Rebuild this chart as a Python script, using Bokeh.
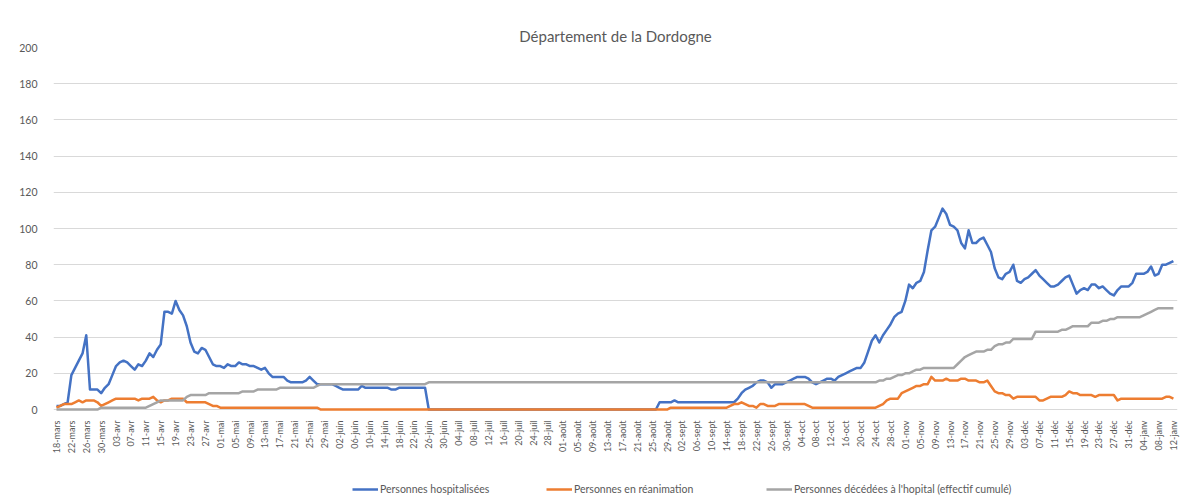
import math
import datetime as dt
from bokeh.plotting import figure
from bokeh.layouts import column
from bokeh.models import Range1d, FixedTicker, Legend, LegendItem
from bokeh.embed import file_html
from bokeh.resources import INLINE

# ---------------- data ----------------
start_date = dt.date(2020, 3, 18)
mois = ["janv", "févr", "mars", "avr", "mai", "juin", "juil", "août", "sept", "oct", "nov", "déc"]

hospitalises = (
    [2, 2, 3, 4, 19, 23, 27, 31, 41, 11,
     11, 11, 9, 12, 14, 19, 24, 26, 27, 26,
     24, 22, 25, 24, 27, 31, 29, 33, 36, 54,
     54, 53, 60, 55, 52, 46, 37, 32, 31, 34,
     33, 29, 25, 24, 24, 23, 25, 24, 24, 26,
     25, 25, 24, 24, 23, 22, 23, 20, 18, 18,
     18, 18, 16, 15, 15, 15, 15, 16, 18, 16,
     14, 14, 14, 14, 14, 13, 12, 11, 11, 11,
     11, 11, 13, 12, 12, 12, 12, 12, 12, 12,
     11, 11, 12, 12, 12, 12, 12, 12, 12, 12]
    + [0] * 62
    + [4, 4, 4, 4, 5, 4, 4, 4]
    + [4] * 10
    + [4, 4, 4, 6, 9, 11, 12, 13, 15, 16,
       16, 15, 12, 14, 14, 14, 15, 16, 17, 18,
       18, 18, 17, 15, 14, 15, 16, 17, 17, 16,
       18, 19, 20, 21, 22, 23, 23, 26, 32, 38,
       41, 37, 41, 44, 47, 51, 53, 54, 60, 69,
       67, 70, 71, 76, 88, 99, 101, 106, 111, 108,
       102, 101, 99, 92, 89, 99, 92, 92, 94, 95,
       91, 87, 78, 73, 72, 75, 76, 80, 71, 70,
       72, 73, 75, 77, 74, 72, 70, 68, 68, 69,
       71, 73, 74, 69, 64, 66, 67, 66, 69, 69,
       67, 68, 66, 64, 63, 66, 68, 68, 68, 70,
       75, 75, 75, 76, 79, 74, 75, 80, 80, 81,
       82]
)

reanimation = (
    [1, 2, 3, 3, 3, 4, 5, 4, 5, 5,
     5, 4, 2, 3, 4, 5, 6, 6, 6, 6,
     6, 6, 5, 6, 6, 6, 7, 5, 4, 5,
     5, 6, 6, 6, 6, 4, 4, 4, 4, 4,
     4, 3, 2, 2, 1, 1, 1, 1, 1, 1]
    + [1] * 20
    + [1]
    + [0] * 94
    + [1] * 16
    + [2, 3, 3, 4, 3, 2, 2, 1, 3]
    + [3, 2, 2, 2, 3, 3, 3, 3, 3, 3,
       3, 3, 2, 1, 1, 1, 1, 1, 1, 1,
       1, 1, 1, 1, 1, 1, 1, 1, 1, 1,
       1, 2, 3, 5, 6, 6, 6, 9, 10, 11,
       12, 13, 13, 14, 14, 18, 16, 16, 16, 17,
       16, 16, 16, 17, 17, 16, 16, 16, 15, 15,
       16, 13, 10, 9, 9, 8, 8, 6, 7, 7,
       7, 7, 7, 7, 5, 5, 6, 7, 7, 7,
       7, 8, 10, 9, 9, 8, 8, 8, 8, 7,
       8, 8, 8, 8, 8, 5, 6, 6, 6, 6,
       6, 6, 6, 6, 6, 6, 6, 6, 7, 7,
       6]
)

deces = (
    [0] * 12
    + [1] * 13
    + [2, 3, 4, 5, 5, 5, 5, 5, 5, 5]
    + [7, 8, 8, 8, 8, 8, 9, 9, 9, 9, 9, 9, 9, 9, 9]
    + [10, 10, 10, 10, 11, 11, 11, 11, 11, 11]
    + [12] * 10
    + [13]
    + [14] * 29
    + [15] * 121
    + [16, 16, 17, 17, 18, 19, 19, 20, 20, 21,
       22, 22, 23, 23, 23, 23, 23, 23, 23, 23,
       23, 25, 27, 29, 30, 31, 32, 32, 32, 33,
       33, 35, 36, 36, 37, 37, 39, 39, 39, 39,
       39, 39, 43, 43, 43, 43, 43, 43, 43, 44,
       44, 45, 46, 46, 46, 46, 46, 48, 48, 48,
       49, 49, 50, 50, 51, 51, 51, 51, 51, 51,
       51, 52, 53, 54, 55, 56, 56, 56, 56, 56]
)

series_labels = ["Personnes hospitalisées", "Personnes en réanimation",
                 "Personnes décédées à l'hopital (effectif cumulé)"]
y_ticks = [0, 20, 40, 60, 80, 100, 120, 140, 160, 180, 200]

n = len(hospitalises)
dates = [start_date + dt.timedelta(days=i) for i in range(n)]
categories = [f"{d.day:02d}-{mois[d.month - 1]}" for d in dates]
x = list(range(n))
x_ticks = list(range(0, n, 4))
series = [hospitalises, reanimation, deces]
colors = ["#4472C4", "#ED7D31", "#A5A5A5"]

# ---------------- main figure ----------------
FONT = "Lato"
TXT = "#595959"

p = figure(width=1181, height=474, output_backend="svg", toolbar_location=None,
           x_range=Range1d(-0.8, 301.1), y_range=Range1d(-1.1, 200),
           min_border_left=53, min_border_right=4, min_border_top=47,
           min_border_bottom=63)
p.outline_line_color = None
p.background_fill_color = "white"
p.border_fill_color = "white"

p.title.text = "Département de la Dordogne"
p.title.align = "center"
p.title.text_font = FONT
p.title.text_font_size = "15px"
p.title.text_font_style = "normal"
p.title.text_color = TXT
p.title.standoff = 6

p.xgrid.grid_line_color = None
p.ygrid.grid_line_color = "#d9d9d9"
p.ygrid.grid_line_width = 1
p.ygrid.ticker = FixedTicker(ticks=y_ticks)

p.yaxis.ticker = FixedTicker(ticks=y_ticks)
p.yaxis.axis_line_color = None
p.yaxis.major_tick_line_color = None
p.yaxis.minor_tick_line_color = None
p.yaxis.major_label_text_font = FONT
p.yaxis.major_label_text_font_size = "10.5px"
p.yaxis.major_label_text_color = TXT
p.yaxis.major_label_standoff = 10

p.xaxis.ticker = FixedTicker(ticks=x_ticks)
p.xaxis.major_label_overrides = {i: categories[i] for i in x_ticks}
p.xaxis.major_label_orientation = math.pi / 2
p.xaxis.axis_line_color = None
p.xaxis.major_tick_line_color = None
p.xaxis.minor_tick_line_color = None
p.xaxis.major_label_text_font = FONT
p.xaxis.major_label_text_font_size = "9px"
p.xaxis.major_label_text_color = TXT
p.xaxis.major_label_standoff = 3

for vals, col in zip(series, colors):
    p.line(x, vals, line_color=col, line_width=2.5, line_join="round")

# ---------------- legend strip ----------------
pl = figure(width=1181, height=30, output_backend="svg", toolbar_location=None,
            x_axis_type=None, y_axis_type=None,
            x_range=Range1d(0, 1), y_range=Range1d(1000, 1001),
            min_border_left=0, min_border_right=0, min_border_top=0,
            min_border_bottom=0)
pl.outline_line_color = None
pl.background_fill_color = "white"
pl.border_fill_color = "white"

legend_x = [299, 493, 713]
for vals, col, lab, lx in zip(series, colors, series_labels, legend_x):
    r = pl.line(x, vals, line_color=col, line_width=2.5)
    lg = Legend(items=[LegendItem(label=lab, renderers=[r])], location=(lx, 7),
                orientation="horizontal", border_line_color=None,
                background_fill_alpha=0, label_text_font=FONT,
                label_text_font_size="10.5px", label_text_color=TXT,
                glyph_width=26, glyph_height=16, label_standoff=2, padding=0,
                margin=0, spacing=0)
    pl.add_layout(lg)

layout = column(p, pl, spacing=0)
open("out.html", "w").write(file_html(layout, INLINE))
